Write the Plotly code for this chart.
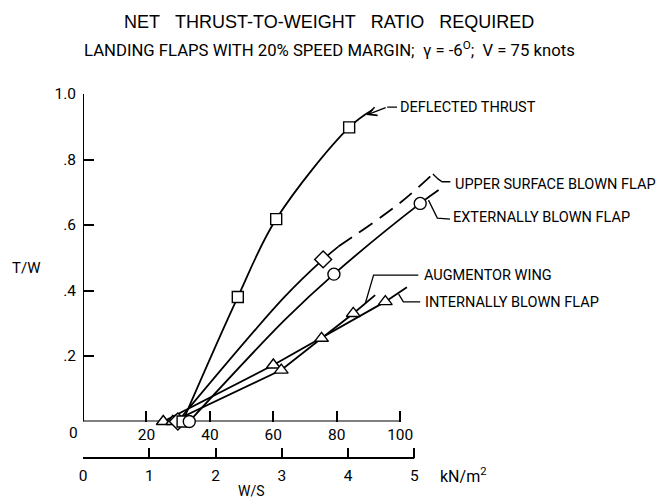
import plotly.graph_objects as go

# ---------------- data (W/S in lbf/ft^2, T/W) ----------------
LBF_TO_KN = 0.04788026

dt_x = [31.4, 48.8, 60.9, 83.9, 91.2]
dt_y = [0.0, 0.380, 0.618, 0.898, 0.951]
dt_mark = [1, 1, 1, 1, 0]

usbf_solid_x = [29.9, 63.6, 75.7, 80.5]
usbf_solid_y = [0.0, 0.381, 0.495, 0.534]
usbf_mark = [1, 0, 1, 0]
usbf_dash_x = [80.5, 100.0, 110.3]
usbf_dash_y = [0.534, 0.668, 0.756]

ebf_x = [33.5, 63.6, 79.1, 106.3, 112.1]
ebf_y = [0.0, 0.310, 0.450, 0.666, 0.707]
ebf_mark = [1, 0, 1, 1, 0]

aw_x = [28.3, 62.5, 75.2, 85.2, 92.1]
aw_y = [0.0, 0.157, 0.254, 0.330, 0.386]
aw_mark = [1, 1, 1, 1, 0]

ibf_x = [25.3, 60.0, 95.3, 102.1]
ibf_y = [0.0, 0.1725, 0.366, 0.410]
ibf_mark = [1, 1, 1, 0]

series_labels = ["DEFLECTED THRUST", "UPPER SURFACE BLOWN FLAP",
                 "EXTERNALLY BLOWN FLAP", "AUGMENTOR WING", "INTERNALLY BLOWN FLAP"]

lbf_ticks = [20, 40, 60, 80, 100]
kn_ticks = [0, 1, 2, 3, 4, 5]
tw_ticks = [0.2, 0.4, 0.6, 0.8, 1.0]
tw_ticktext = [".2", ".4", ".6", ".8", "1.0"]

SP3 = "\u00a0\u00a0\u00a0"
title_text = f"NET{SP3}THRUST-TO-WEIGHT{SP3}RATIO{SP3}REQUIRED"
subtitle_text = ("LANDING FLAPS WITH 20% SPEED MARGIN;\u00a0\u00a0\u03b3 = -6<sup>O</sup>;"
                 "\u00a0\u00a0V = 75 knots")

# ---------------- styling ----------------
LAB = "Roboto, DejaVu Sans, sans-serif"
WIDE = "Liberation Sans, Arial, sans-serif"
BLK = "black"
LW = 1.8

X_MAX = 180.0

fig = go.Figure()


def add_curve(x, y, dash="solid", shape="spline"):
    fig.add_trace(go.Scatter(x=x, y=y, mode="lines", line=dict(color=BLK, width=LW, dash=dash, shape=shape),
                             hoverinfo="skip", showlegend=False, cliponaxis=False))


def add_marks(x, y, flags, symbol, size):
    mx = [a for a, f in zip(x, flags) if f]
    my = [b for b, f in zip(y, flags) if f]
    fig.add_trace(go.Scatter(x=mx, y=my, mode="markers",
                             marker=dict(symbol=symbol, size=size, color="white",
                                         line=dict(color=BLK, width=1.4)),
                             hoverinfo="skip", showlegend=False, cliponaxis=False))


add_curve(dt_x, dt_y)
add_curve(usbf_solid_x, usbf_solid_y)
add_curve(usbf_dash_x, usbf_dash_y, dash="16px,9px")
add_curve(ebf_x, ebf_y)
add_curve(aw_x, aw_y, shape="linear")
add_curve(ibf_x, ibf_y, shape="linear")

add_marks(ibf_x, ibf_y, ibf_mark, "triangle-up", 12)
add_marks(aw_x, aw_y, aw_mark, "triangle-up", 12)
add_marks(usbf_solid_x, usbf_solid_y, usbf_mark, "diamond", 13)
add_marks(dt_x, dt_y, dt_mark, "square", 11)
add_marks(ebf_x, ebf_y, ebf_mark, "circle", 12)

# invisible trace to activate the kN/m^2 axis
fig.add_trace(go.Scatter(x=[kn_ticks[0], kn_ticks[-1]], y=[0, 0], xaxis="x2", mode="markers",
                         marker=dict(size=1, color="rgba(0,0,0,0)"), hoverinfo="skip", showlegend=False))

# ---------------- axes lines (drawn only over the labelled spans) ----------------
shapes = [
    dict(type="line", xref="x", yref="y", x0=0, x1=lbf_ticks[-1], y0=0, y1=0, line=dict(color=BLK, width=2), layer="below"),
    dict(type="line", xref="x", yref="y", x0=0, x1=0, y0=0, y1=tw_ticks[-1], line=dict(color=BLK, width=2), layer="below"),
    dict(type="line", xref="x2", yref="paper", x0=kn_ticks[0], x1=kn_ticks[-1], y0=0, y1=0, line=dict(color=BLK, width=1.8), layer="below"),
]

# leader lines (decorative), in data units
leaders = [
    [(99.0, 0.960), (95.9, 0.960)],
    [(110.3, 0.756), (112.0, 0.740), (113.2, 0.732), (115.8, 0.732)],
    [(108.9, 0.676), (111.7, 0.621), (115.7, 0.618)],
    [(105.7, 0.447), (91.6, 0.447), (89.0, 0.361)],
    [(106.3, 0.365), (101.0, 0.365), (99.5, 0.389)],
]
for pts in leaders:
    path = "M " + " L ".join(f"{px},{py}" for px, py in pts)
    shapes.append(dict(type="path", xref="x", yref="y", path=path, line=dict(color=BLK, width=1.3)))


def txt(text, x, y, size, xref="paper", yref="paper", xanchor="center", family=LAB):
    return dict(text=text, x=x, y=y, xref=xref, yref=yref, xanchor=xanchor, yanchor="middle",
                showarrow=False, font=dict(family=family, size=size, color=BLK))


annotations = [
    txt(title_text, 0.4302, 1.1978, 18, family=WIDE),
    txt(subtitle_text, 0.431, 1.1236, 16.7),
    txt("T/W", -0.1007, 0.522, 15),
    txt("W/S", 0.2944, -0.0907, 14),
    txt("0", -0.0158, 0.0687, 15.5),
    txt("lbf/ft<sup>2</sup>", 109.1, -0.035, 16, xref="x", yref="y", xanchor="left"),
    txt("kN/m<sup>2</sup>", 5.36, -0.047, 16, xref="x2", yref="paper", xanchor="left"),
    # arrow of deflected thrust leader
    dict(text="", x=89.3, y=0.936, xref="x", yref="y", ax=95.9, ay=0.960, axref="x", ayref="y",
         showarrow=True, arrowhead=5, arrowsize=1.3, arrowwidth=1.3, arrowcolor=BLK),
]

label_pos = [(99.4, 0.960), (116.7, 0.725), (116.1, 0.622), (106.9, 0.447), (107.3, 0.362)]
for t, (lx, ly) in zip(series_labels, label_pos):
    annotations.append(txt(t, lx, ly, 14.5, xref="x", yref="y", xanchor="left"))

tickfont = dict(family=LAB, size=15.5, color=BLK)
fig.update_layout(
    width=663, height=501,
    margin=dict(l=83, r=663 - 83 - X_MAX * 3.17, t=94, b=43, pad=0),
    paper_bgcolor="white", plot_bgcolor="white",
    showlegend=False,
    xaxis=dict(range=[0, X_MAX], anchor="y", tickvals=lbf_ticks, ticks="inside", ticklen=11, tickwidth=1.6,
               tickcolor=BLK, showline=False, showgrid=False, zeroline=False, ticklabelstandoff=2,
               tickfont=tickfont),
    xaxis2=dict(range=[0, X_MAX * LBF_TO_KN], overlaying="x", anchor="free", position=0, side="bottom",
                tickvals=kn_ticks, ticks="inside", ticklen=10, tickwidth=1.6, tickcolor=BLK,
                showline=False, showgrid=False, zeroline=False, ticklabelstandoff=6,
                tickfont=tickfont),
    yaxis=dict(range=[0, 1.0], domain=[(458 - 421.5) / 364, 1], tickvals=tw_ticks, ticktext=tw_ticktext,
               ticks="inside", ticklen=11, tickwidth=1.6, tickcolor=BLK, showline=False, showgrid=False,
               zeroline=False, ticklabelstandoff=6, tickfont=tickfont),
    shapes=shapes,
    annotations=annotations,
)

fig.write_html("out.html")
